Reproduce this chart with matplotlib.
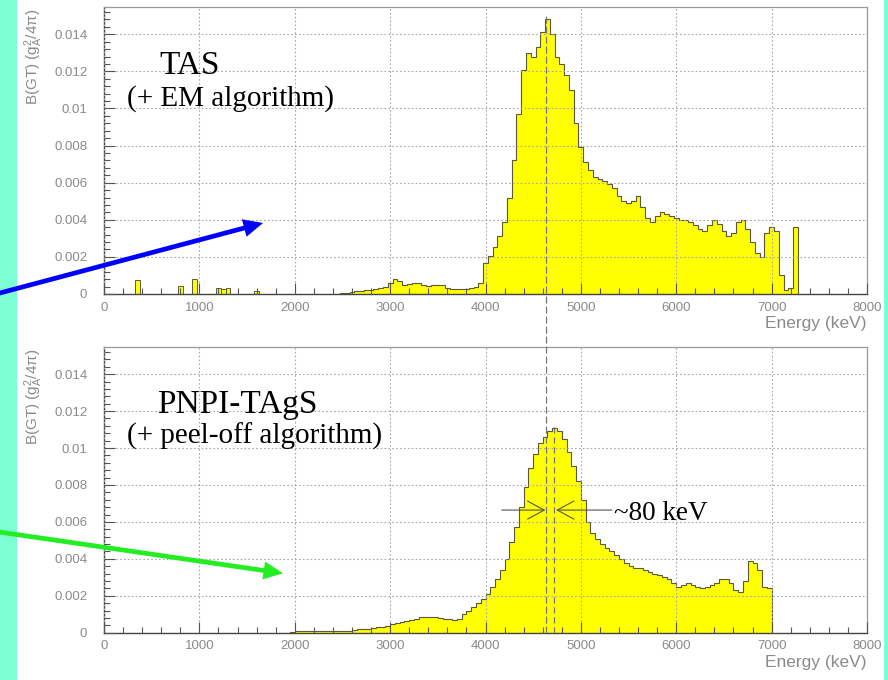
import numpy as np
import matplotlib
matplotlib.use("Agg")
import matplotlib.pyplot as plt
from matplotlib.patches import FancyArrowPatch, ConnectionPatch, Rectangle
from matplotlib.ticker import MultipleLocator

# ---------------- data ----------------
x_ticks = [0, 1000, 2000, 3000, 4000, 5000, 6000, 7000, 8000]
x_tick_labels = ["0", "1000", "2000", "3000", "4000", "5000", "6000", "7000", "8000"]
y_ticks = [0, 0.002, 0.004, 0.006, 0.008, 0.010, 0.012, 0.014]
y_tick_labels = ["0", "0.002", "0.004", "0.006", "0.008", "0.01", "0.012", "0.014"]

bin_width = 50  # keV

# TAS (+ EM algorithm): isolated low-energy bins
tas_low_centers = [350, 800, 950, 1200, 1250, 1300, 1600]
tas_low_values = [0.00074, 0.00041, 0.00081, 0.00032, 0.00029, 0.00032, 0.00016]

# TAS continuous part, first bin centre 2500 keV
tas_first_center = 2500
tas_values = [
    0.00005, 0.00008, 0.00012, 0.00015, 0.00017, 0.00020, 0.00024, 0.00028, 0.00032, 0.00038,
    0.00060, 0.00080, 0.00070, 0.00050, 0.00052, 0.00060, 0.00060, 0.00050, 0.00044, 0.00050,
    0.00050, 0.00050, 0.00034, 0.00028, 0.00028, 0.00028, 0.00028, 0.00032, 0.00040, 0.00060,
    0.00165, 0.00206, 0.00255, 0.00310, 0.00390, 0.00520, 0.00720, 0.00970, 0.01210, 0.01300,
    0.01280, 0.01330, 0.01410, 0.01480, 0.01400, 0.01280, 0.01240, 0.01180, 0.01100, 0.00920,
    0.00790, 0.00710, 0.00670, 0.00630, 0.00620, 0.00610, 0.00595, 0.00570, 0.00530, 0.00500,
    0.00490, 0.00500, 0.00530, 0.00470, 0.00410, 0.00386, 0.00420, 0.00440, 0.00430, 0.00420,
    0.00410, 0.00400, 0.00400, 0.00390, 0.00370, 0.00350, 0.00340, 0.00370, 0.00400, 0.00380,
    0.00340, 0.00310, 0.00330, 0.00390, 0.00400, 0.00350, 0.00280, 0.00220, 0.00200, 0.00330,
    0.00360, 0.00340, 0.00100, 0.00020, 0.00030, 0.00360,
]

# PNPI-TAgS (+ peel-off algorithm), first bin centre 1975 keV
pnpi_first_center = 1975
pnpi_values = [
    0.00006, 0.00007, 0.00007, 0.00007, 0.00007, 0.00008, 0.00008, 0.00008, 0.00010, 0.00010,
    0.00010, 0.00010, 0.00011, 0.00015, 0.00018, 0.00020, 0.00022, 0.00027, 0.00030, 0.00032,
    0.00038, 0.00047, 0.00052, 0.00058, 0.00062, 0.00068, 0.00075, 0.00083, 0.00086, 0.00087,
    0.00083, 0.00080, 0.00076, 0.00072, 0.00071, 0.00075, 0.00100, 0.00120, 0.00140, 0.00160,
    0.00180, 0.00210, 0.00250, 0.00290, 0.00340, 0.00400, 0.00490, 0.00570, 0.00680, 0.00790,
    0.00890, 0.00970, 0.01025, 0.01060, 0.01090, 0.01110, 0.01090, 0.01050, 0.00980, 0.00900,
    0.00820, 0.00720, 0.00600, 0.00540, 0.00510, 0.00480, 0.00460, 0.00440, 0.00420, 0.00400,
    0.00380, 0.00360, 0.00350, 0.00350, 0.00340, 0.00330, 0.00320, 0.00310, 0.00300, 0.00290,
    0.00270, 0.00250, 0.00260, 0.00270, 0.00260, 0.00250, 0.00240, 0.00250, 0.00260, 0.00270,
    0.00290, 0.00290, 0.00270, 0.00230, 0.00220, 0.00280, 0.00390, 0.00380, 0.00340, 0.00250,
    0.00240,
]

# annotation values
centroid_tas = 4640      # keV, dashed line
centroid_pnpi = 4720     # keV, dashed line
fwhm_level = 0.00664
fwhm_left = (4170, 4628)
fwhm_right = (5325, 4740)

# ---------------- figure ----------------
plt.rcParams["font.family"] = ["Liberation Sans", "DejaVu Sans"]
plt.rcParams["mathtext.fontset"] = "custom"
plt.rcParams["mathtext.rm"] = "Liberation Sans"
plt.rcParams["mathtext.it"] = "Liberation Sans:italic"

W, H = 888, 680
fig = plt.figure(figsize=(W / 100, H / 100), dpi=100)
fig.patch.set_facecolor("white")


def fx(x):
    return x / W


def fy(y):
    return 1 - y / H


aqua = "#7FFFD4"
fig.add_artist(Rectangle((0, 0), fx(17), 1, transform=fig.transFigure,
                         facecolor=aqua, edgecolor="none", zorder=-5))
fig.add_artist(Rectangle((fx(884), 0), fx(4), 1, transform=fig.transFigure,
                         facecolor=aqua, edgecolor="none", zorder=-5))

ax1 = fig.add_axes([fx(104), fy(294), fx(763), 287 / H])
ax2 = fig.add_axes([fx(104), fy(632.7), fx(763), 285.7 / H])

yellow = "#FFFF00"
outline = "#5a5a3a"
ymax = 0.01547

tas_edges = tas_first_center - bin_width / 2 + bin_width * np.arange(len(tas_values) + 1)
pnpi_edges = pnpi_first_center - bin_width / 2 + bin_width * np.arange(len(pnpi_values) + 1)

ax1.bar(tas_low_centers, tas_low_values, width=bin_width, color=yellow,
        edgecolor=outline, linewidth=0.7, zorder=1)
ax1.stairs(tas_values, tas_edges, fill=True, color=yellow, zorder=1)
ax1.stairs(tas_values, tas_edges, fill=False, color=outline, linewidth=0.8, zorder=1.5)

ax2.stairs(pnpi_values, pnpi_edges, fill=True, color=yellow, zorder=1)
ax2.stairs(pnpi_values, pnpi_edges, fill=False, color=outline, linewidth=0.8, zorder=1.5)

for ax in (ax1, ax2):
    ax.set_xlim(0, 8000)
    ax.set_ylim(0, ymax)
    ax.set_xticks(x_ticks)
    ax.set_xticklabels(x_tick_labels)
    ax.set_yticks(y_ticks)
    ax.set_yticklabels(y_tick_labels)
    ax.xaxis.set_minor_locator(MultipleLocator(200))
    ax.yaxis.set_minor_locator(MultipleLocator(0.0004))
    ax.tick_params(axis="both", which="both", direction="in", top=False, right=False,
                   color="#555555", labelcolor="#8a8a8a", labelsize=9.5, width=0.8)
    ax.tick_params(axis="x", which="major", length=8, pad=5.5)
    ax.tick_params(axis="x", which="minor", length=4.5)
    ax.tick_params(axis="y", which="major", length=8, pad=12)
    ax.tick_params(axis="y", which="minor", length=4.5)
    ax.set_axisbelow(False)
    ax.grid(True, which="major", color="#a8a8a8", linestyle=(0, (1.5, 2.0)), linewidth=0.8)
    for s in ("left", "bottom"):
        ax.spines[s].set_color("#444444")
        ax.spines[s].set_linewidth(1.0)
    for s in ("top", "right"):
        ax.spines[s].set_color("#9a9a9a")
        ax.spines[s].set_linewidth(0.9)

# axis titles
ylab = r"B(GT) (g$_\mathrm{A}^\mathrm{2}$/4$\mathrm{π}$)"
fig.text(fx(34), fy(9), ylab, rotation=90, ha="center", va="top", color="#8a8a8a", fontsize=11)
fig.text(fx(34), fy(349), ylab, rotation=90, ha="center", va="top", color="#8a8a8a", fontsize=11)
fig.text(fx(866), fy(316), "Energy (keV)", ha="right", va="top", color="#8a8a8a", fontsize=12.5)
fig.text(fx(866), fy(655), "Energy (keV)", ha="right", va="top", color="#8a8a8a", fontsize=12.5)

# panel titles
serif = "Liberation Serif"
fig.text(fx(159), fy(74), "TAS", family=serif, fontsize=24, va="baseline", ha="left")
fig.text(fx(127), fy(106), "(+ EM algorithm)", family=serif, fontsize=21, va="baseline", ha="left")
fig.text(fx(157), fy(413), "PNPI-TAgS", family=serif, fontsize=24, va="baseline", ha="left")
fig.text(fx(127), fy(444), "(+ peel-off algorithm)", family=serif, fontsize=21, va="baseline", ha="left")
fig.text(fx(614), fy(520), "~80 keV", family=serif, fontsize=19.5, va="baseline", ha="left")

# centroid dashed lines
con = ConnectionPatch(xyA=(centroid_tas, 0.01493), coordsA=ax1.transData,
                      xyB=(centroid_tas, 0), coordsB=ax2.transData,
                      color="#777777", linestyle=(0, (5, 3)), linewidth=0.9, zorder=3)
fig.add_artist(con)
ax2.plot([centroid_pnpi, centroid_pnpi], [0, 0.0112], color="#777777",
         linestyle=(0, (5, 3)), linewidth=0.9, zorder=3)

# FWHM markers
for xt, xh in (fwhm_left, fwhm_right):
    ax2.annotate("", xy=(xh, fwhm_level), xytext=(xt, fwhm_level),
                 arrowprops=dict(arrowstyle="->,head_length=1.2,head_width=0.65",
                                 color="#555555", lw=0.8, shrinkA=0, shrinkB=0),
                 zorder=3)

# coloured arrows
fig.add_artist(FancyArrowPatch((fx(-5), fy(294.3)), (fx(263), fy(223)),
                               transform=fig.transFigure,
                               arrowstyle="simple,head_length=1.4,head_width=1.3,tail_width=0.34",
                               mutation_scale=10, color="#0000FF", lw=0,
                               shrinkA=0, shrinkB=0, zorder=10))
fig.add_artist(FancyArrowPatch((fx(-5), fy(531.4)), (fx(283), fy(573.3)),
                               transform=fig.transFigure,
                               arrowstyle="simple,head_length=1.4,head_width=1.3,tail_width=0.34",
                               mutation_scale=10, color="#22EE22", lw=0,
                               shrinkA=0, shrinkB=0, zorder=10))

fig.savefig("out.png", dpi=100, facecolor=fig.get_facecolor())
